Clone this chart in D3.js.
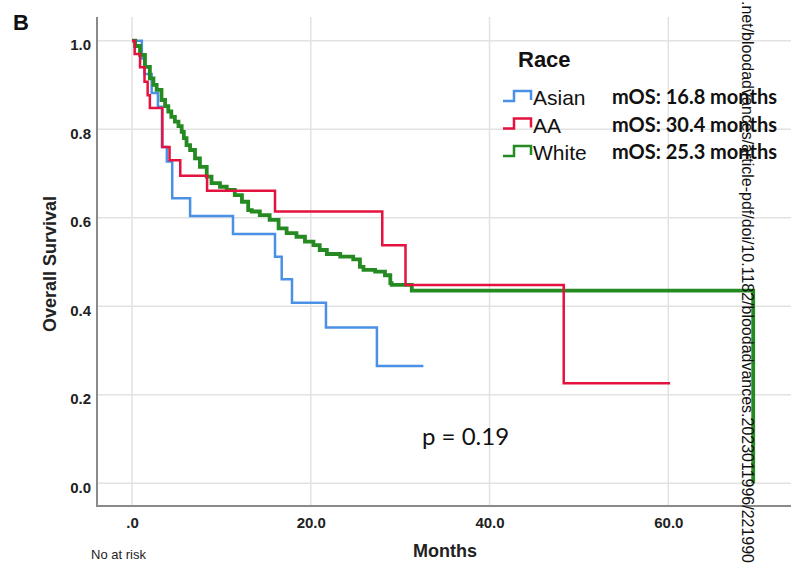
<!DOCTYPE html>
<html><head><meta charset="utf-8">
<script src="https://cdn.jsdelivr.net/npm/d3@7"></script>
<style>html,body{margin:0;padding:0;background:#fff;overflow:hidden}</style>
</head><body>
<svg id="chart" width="791" height="565"></svg>
<script>
// ---------- data ----------
const xTickValues = [0, 20, 40, 60];
const xTickLabels = [".0", "20.0", "40.0", "60.0"];
const yTickValues = [0, 0.2, 0.4, 0.6, 0.8, 1.0];
const yTickLabels = ["0.0", "0.2", "0.4", "0.6", "0.8", "1.0"];

const groupNames = ["Asian", "AA", "White"];
const mosLabels = ["mOS: 16.8 months", "mOS: 30.4 months", "mOS: 25.3 months"];

const asianTimes = [0, 1.1, 1.4, 2.2, 2.9, 3.35, 3.9, 4.5, 6.5, 11.3, 16.0, 16.75, 17.9, 21.7, 27.4, 32.6];
const asianSurv  = [1.0, 0.96, 0.925, 0.882, 0.851, 0.76, 0.727, 0.644, 0.604, 0.563, 0.512, 0.461, 0.408, 0.352, 0.265, 0.265];

const aaTimes = [0, 0.3, 0.9, 1.4, 1.75, 2.0, 3.4, 4.2, 5.4, 8.4, 16.0, 28.0, 30.6, 48.3, 60.2];
const aaSurv  = [1.0, 0.97, 0.94, 0.907, 0.877, 0.848, 0.76, 0.73, 0.695, 0.661, 0.614, 0.538, 0.448, 0.226, 0.226];

const whiteTimes = [0, 0.35, 0.9, 1.45, 2.0, 2.4, 2.76, 3.3, 3.7, 4.06, 4.4, 4.8, 5.2, 5.56, 5.8, 6.1, 6.5, 7.05, 7.6, 8.36, 8.9, 9.84, 10.6, 11.5, 12.3, 13.0, 13.4, 14.3, 15.4, 16.4, 17.3, 18.4, 19.35, 20.3, 21.0, 21.8, 23.3, 24.75, 25.5, 25.9, 27.2, 28.3, 28.9, 29.05, 31.3, 69.5, 69.5];
const whiteSurv  = [1.0, 0.988, 0.968, 0.941, 0.915, 0.9, 0.889, 0.866, 0.852, 0.84, 0.828, 0.817, 0.807, 0.794, 0.78, 0.764, 0.753, 0.734, 0.715, 0.693, 0.678, 0.67, 0.663, 0.651, 0.636, 0.617, 0.614, 0.606, 0.595, 0.576, 0.565, 0.557, 0.546, 0.538, 0.527, 0.518, 0.512, 0.506, 0.489, 0.482, 0.478, 0.47, 0.452, 0.448, 0.435, 0.435, 0.0];

const colors = ["#4a91e6", "#e3123f", "#268a22"];
const widths = [2.5, 2.5, 3.8];

// ---------- drawing ----------
const svg = d3.select("#chart");
const x = d3.scaleLinear().domain([0, 60]).range([132, 668.3]);
const y = d3.scaleLinear().domain([0, 1]).range([483.2, 40.7]);
const plotL = 97, plotT = 17, plotB = 506, plotR = 791;

// gridlines
svg.append("g").selectAll("line").data(yTickValues).join("line")
  .attr("x1", plotL).attr("x2", plotR)
  .attr("y1", d => y(d)).attr("y2", d => y(d))
  .attr("stroke", "#e2e2e2").attr("stroke-width", 1.5);
svg.append("g").selectAll("line").data(xTickValues).join("line")
  .attr("x1", d => x(d)).attr("x2", d => x(d))
  .attr("y1", plotT).attr("y2", plotB)
  .attr("stroke", "#e2e2e2").attr("stroke-width", 1.5);

// axes
const yAxis = d3.axisLeft(y).tickValues(yTickValues)
  .tickFormat((d, i) => yTickLabels[i]).tickSize(0).tickPadding(6);
const gy = svg.append("g").attr("transform", `translate(${plotL},0)`).call(yAxis);
gy.select(".domain").remove();
gy.selectAll("text").attr("dy", null).attr("dominant-baseline", null)
  .attr("y", 9).style("font", "bold 15px 'Liberation Sans', Arial, sans-serif").attr("fill", "#222");

const xAxis = d3.axisBottom(x).tickValues(xTickValues)
  .tickFormat((d, i) => xTickLabels[i]).tickSize(0);
const gx = svg.append("g").attr("transform", `translate(0,${plotB})`).call(xAxis);
gx.select(".domain").remove();
gx.selectAll("text").attr("dy", null).attr("y", 22)
  .style("font", "bold 15px 'Liberation Sans', Arial, sans-serif").attr("fill", "#222");

svg.append("line").attr("x1", plotL).attr("x2", plotL).attr("y1", plotT).attr("y2", plotB + 1)
  .attr("stroke", "#8a8a8a").attr("stroke-width", 2);
svg.append("line").attr("x1", plotL).attr("x2", plotR).attr("y1", plotB).attr("y2", plotB)
  .attr("stroke", "#8a8a8a").attr("stroke-width", 2);

// curves
const series = [
  asianTimes.map((t, i) => [t, asianSurv[i]]),
  aaTimes.map((t, i) => [t, aaSurv[i]]),
  whiteTimes.map((t, i) => [t, whiteSurv[i]])
];
const line = d3.line().x(d => x(d[0])).y(d => y(d[1])).curve(d3.curveStepAfter);
[0, 2, 1].forEach(k => {
  svg.append("path").datum(series[k]).attr("d", line)
    .attr("fill", "none").attr("stroke", colors[k]).attr("stroke-width", widths[k])
    .attr("stroke-linejoin", "miter");
});

// titles
svg.append("text").attr("x", 13).attr("y", 30).text("B")
  .style("font", "bold 22px 'Liberation Sans', Arial, sans-serif").attr("fill", "#111");
svg.append("text").attr("transform", "translate(56,264) rotate(-90)").attr("text-anchor", "middle")
  .text("Overall Survival").style("font", "bold 18px 'Liberation Sans', Arial, sans-serif").attr("fill", "#222");
svg.append("text").attr("x", 445).attr("y", 557).attr("text-anchor", "middle")
  .text("Months").style("font", "bold 18px 'Liberation Sans', Arial, sans-serif").attr("fill", "#222");
svg.append("text").attr("x", 91).attr("y", 559).text("No at risk")
  .style("font", "13px 'Liberation Sans', Arial, sans-serif").attr("fill", "#222");

// p-value
svg.append("text").attr("x", 422).attr("y", 445).text("p = 0.19")
  .style("font", "24px Lato, 'Open Sans', sans-serif").attr("fill", "#111");

// legend
svg.append("text").attr("x", 518).attr("y", 67).text("Race")
  .style("font", "bold 22px 'Liberation Sans', Arial, sans-serif").attr("fill", "#111");
const legRows = [104, 131.5, 159];
groupNames.forEach((g, i) => {
  const by = legRows[i];
  svg.append("path")
    .attr("d", `M503,${by - 3} H514 V${by - 13} H531 V${by - 4}`)
    .attr("fill", "none").attr("stroke", colors[i]).attr("stroke-width", 2.5);
  svg.append("text").attr("x", 533).attr("y", by + 1).text(g)
    .style("font", "21px 'Liberation Sans', Arial, sans-serif").attr("fill", "#111");
  svg.append("text").attr("x", 612).attr("y", by).text(mosLabels[i])
    .style("font", "bold 20px Lato, 'Open Sans', sans-serif").attr("fill", "#111");
});

// watermark
svg.append("text").attr("transform", "translate(742,1) rotate(90)")
  .text(".net/bloodadvances/article-pdf/doi/10.1182/bloodadvances.2023011996/221990")
  .attr("textLength", 562).attr("lengthAdjust", "spacingAndGlyphs")
  .style("font", "16px 'Liberation Sans', Arial, sans-serif").attr("fill", "#111");
</script>
</body></html>
